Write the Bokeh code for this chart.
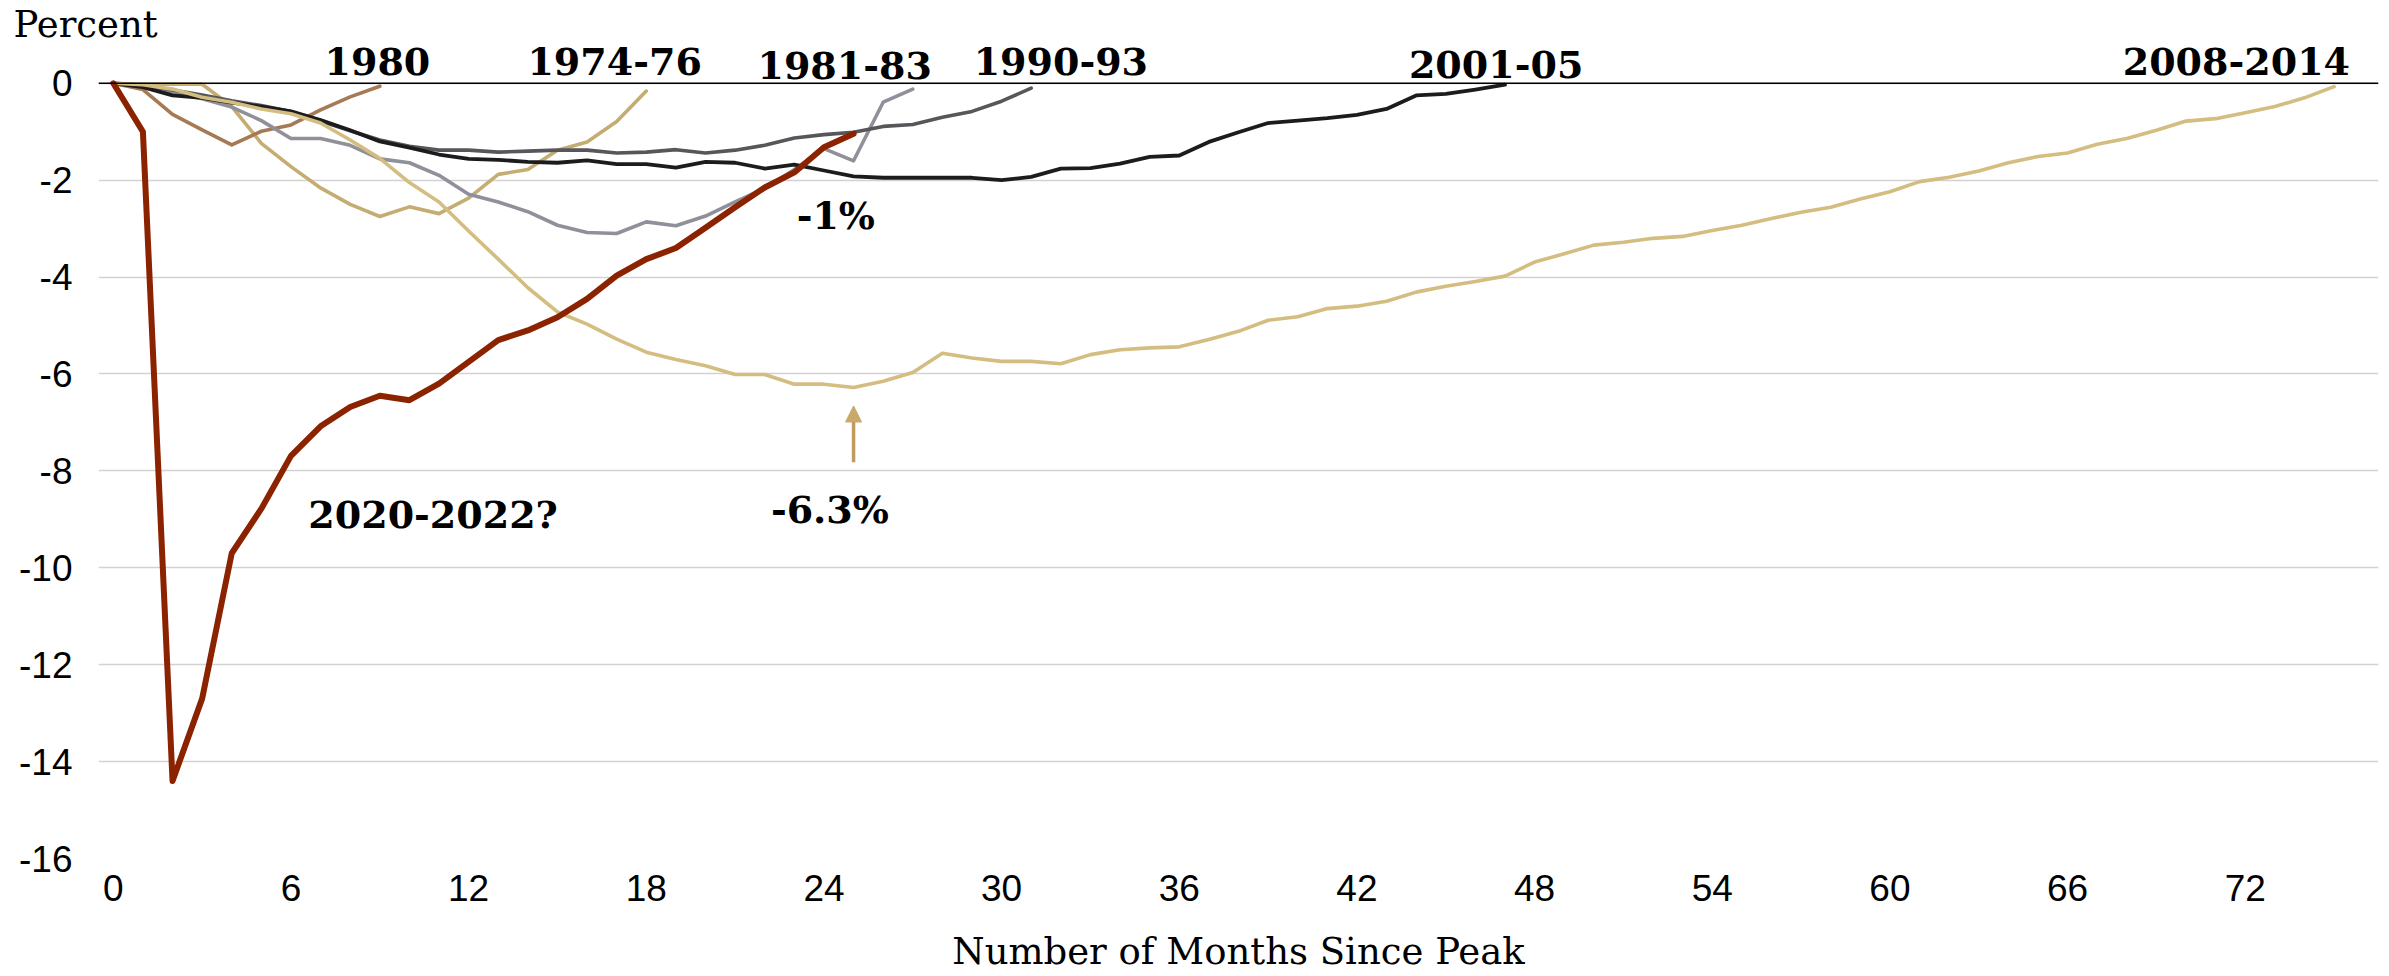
from bokeh.plotting import figure
from bokeh.models import (Range1d, FixedTicker, Span, Label, Arrow, NormalHead,
                          PrintfTickFormatter)
from bokeh.embed import file_html
from bokeh.resources import INLINE

# ---- data: percent change in payroll employment since peak, by month ----
r1974 = [0, -0.02, -0.02, -0.02, -0.48, -1.24, -1.72, -2.16, -2.5, -2.75, -2.55, -2.69,
         -2.37, -1.88, -1.78, -1.38, -1.21, -0.79, -0.16]
r1980 = [0, -0.13, -0.64, -0.96, -1.27, -0.99, -0.86, -0.55, -0.28, -0.06]
r1981 = [0, -0.05, -0.18, -0.32, -0.49, -0.77, -1.14, -1.14, -1.28, -1.56, -1.64, -1.9,
         -2.29, -2.45, -2.65, -2.93, -3.08, -3.10, -2.86, -2.94, -2.74, -2.45, -2.17,
         -1.78, -1.35, -1.60, -0.39, -0.12]
r1990 = [0, -0.04, -0.14, -0.24, -0.36, -0.46, -0.58, -0.78, -0.98, -1.17, -1.3, -1.38,
         -1.38, -1.42, -1.40, -1.38, -1.38, -1.44, -1.42, -1.37, -1.44, -1.38, -1.28,
         -1.13, -1.06, -1.01, -0.89, -0.85, -0.70, -0.58, -0.37, -0.10]
r2001 = [0, -0.08, -0.25, -0.3, -0.4, -0.48, -0.58, -0.76, -0.97, -1.2,
         -1.33, -1.47, -1.56, -1.58, -1.62, -1.64, -1.59, -1.67, -1.67, -1.74,
         -1.62, -1.64, -1.76, -1.68, -1.80, -1.92, -1.95, -1.95, -1.95, -1.95,
         -2.0, -1.93, -1.76, -1.75, -1.66, -1.52, -1.49, -1.21, -1.01, -0.82,
         -0.77, -0.72, -0.65, -0.53, -0.25, -0.22, -0.13, -0.03]
r2008 = [0, -0.03, -0.12, -0.29, -0.39, -0.53, -0.63, -0.82, -1.17, -1.55,
         -2.05, -2.45, -3.05, -3.63, -4.22, -4.72, -4.97, -5.28, -5.55, -5.70,
         -5.83, -6.01, -6.01, -6.21, -6.21, -6.28, -6.15, -5.97, -5.57, -5.67,
         -5.74, -5.74, -5.79, -5.60, -5.50, -5.46, -5.44, -5.29, -5.12, -4.89,
         -4.82, -4.65, -4.60, -4.50, -4.31, -4.19, -4.09, -3.98, -3.69, -3.52,
         -3.34, -3.28, -3.20, -3.16, -3.04, -2.93, -2.79, -2.66, -2.56, -2.39,
         -2.24, -2.03, -1.94, -1.81, -1.64, -1.51, -1.44, -1.26, -1.14, -0.97,
         -0.78, -0.73, -0.61, -0.48, -0.30, -0.07]
r2020 = [0, -1.0, -14.4, -12.7, -9.7, -8.78, -7.69, -7.08, -6.68, -6.45, -6.54, -6.2,
         -5.75, -5.3, -5.1, -4.83, -4.45, -3.97, -3.63, -3.4, -2.98, -2.56, -2.15,
         -1.84, -1.32, -1.04]

x_ticks = [0, 6, 12, 18, 24, 30, 36, 42, 48, 54, 60, 66, 72]
y_ticks = [0, -2, -4, -6, -8, -10, -12, -14, -16]

# series: (values, colour, width, label, label_x, label_y)
series = [
    (r1974, "#C5AD72", 3.6, "1974-76", 16.93, 0.46),
    (r1980, "#A57A54", 3.6, "1980", 8.92, 0.46),
    (r1981, "#8F909A", 3.6, "1981-83", 24.7, 0.36),
    (r1990, "#56565B", 3.6, "1990-93", 32.0, 0.45),
    (r2001, "#1C1C1C", 3.8, "2001-05", 46.7, 0.39),
    (r2008, "#D4BD80", 3.6, "2008-2014", 71.7, 0.46),
    (r2020, "#8B2300", 6.0, "2020-2022?", 10.8, -8.89),
]

SERIF = "DejaVu Serif"
SANS = "'Liberation Sans Narrow', 'Liberation Sans', sans-serif"

p = figure(width=2388, height=975, output_backend="svg", toolbar_location=None,
           x_range=Range1d(-0.5, 76.5), y_range=Range1d(-16, 0.78),
           min_border_left=98, min_border_right=10, min_border_top=0,
           min_border_bottom=114)
p.outline_line_color = None
p.background_fill_color = "white"

p.title.text = "Percent"
p.title.align = "left"
p.title.offset = -85
p.title.standoff = 0
p.title.text_font = SERIF
p.title.text_font_size = "37px"
p.title.text_font_style = "normal"
p.title.text_color = "black"

p.xgrid.visible = False
p.ygrid.ticker = FixedTicker(ticks=y_ticks)
p.ygrid.grid_line_color = "#D2D2D2"
p.ygrid.grid_line_width = 1.5

p.yaxis.ticker = FixedTicker(ticks=y_ticks)
p.xaxis.ticker = FixedTicker(ticks=x_ticks)
for ax in (p.xaxis, p.yaxis):
    ax.formatter = PrintfTickFormatter(format="%d")
    ax.axis_line_color = None
    ax.major_tick_line_color = None
    ax.minor_tick_line_color = None
    ax.major_tick_out = 0
    ax.major_tick_in = 0
    ax.major_label_text_font = SANS
    ax.major_label_text_font_size = "37px"
    ax.major_label_text_color = "black"
p.yaxis.major_label_standoff = 26
p.xaxis.major_label_standoff = 16
p.xaxis.axis_label = "Number of Months Since Peak"
p.xaxis.axis_label_text_font = SERIF
p.xaxis.axis_label_text_font_size = "37px"
p.xaxis.axis_label_text_font_style = "normal"
p.xaxis.axis_label_text_color = "black"
p.xaxis.axis_label_standoff = 26

for vals, col, lw, name, lx, ly in series:
    p.line(x=list(range(len(vals))), y=vals, line_color=col, line_width=lw,
           line_join="round", line_cap="round")

p.add_layout(Span(location=0, dimension="width", line_color="black", line_width=1.5))

for vals, col, lw, name, lx, ly in series:
    p.add_layout(Label(x=lx, y=ly, text=name, text_font=SERIF, text_font_style="bold",
                       text_font_size="38px", text_color="black",
                       text_align="center", text_baseline="middle"))

p.add_layout(Label(x=24.4, y=-2.735, text="-1%", text_font=SERIF, text_font_style="bold",
                   text_font_size="38px", text_color="black",
                   text_align="center", text_baseline="middle"))
p.add_layout(Label(x=24.2, y=-8.80, text="-6.3%", text_font=SERIF, text_font_style="bold",
                   text_font_size="38px", text_color="black",
                   text_align="center", text_baseline="middle"))
p.add_layout(Arrow(x_start=25, y_start=-7.82, x_end=25, y_end=-6.66,
                   line_color="#C19A5E", line_width=3.5,
                   end=NormalHead(size=16, fill_color="#C9A96A", line_color="#C9A96A")))

open("out.html", "w").write(file_html(p, INLINE))
